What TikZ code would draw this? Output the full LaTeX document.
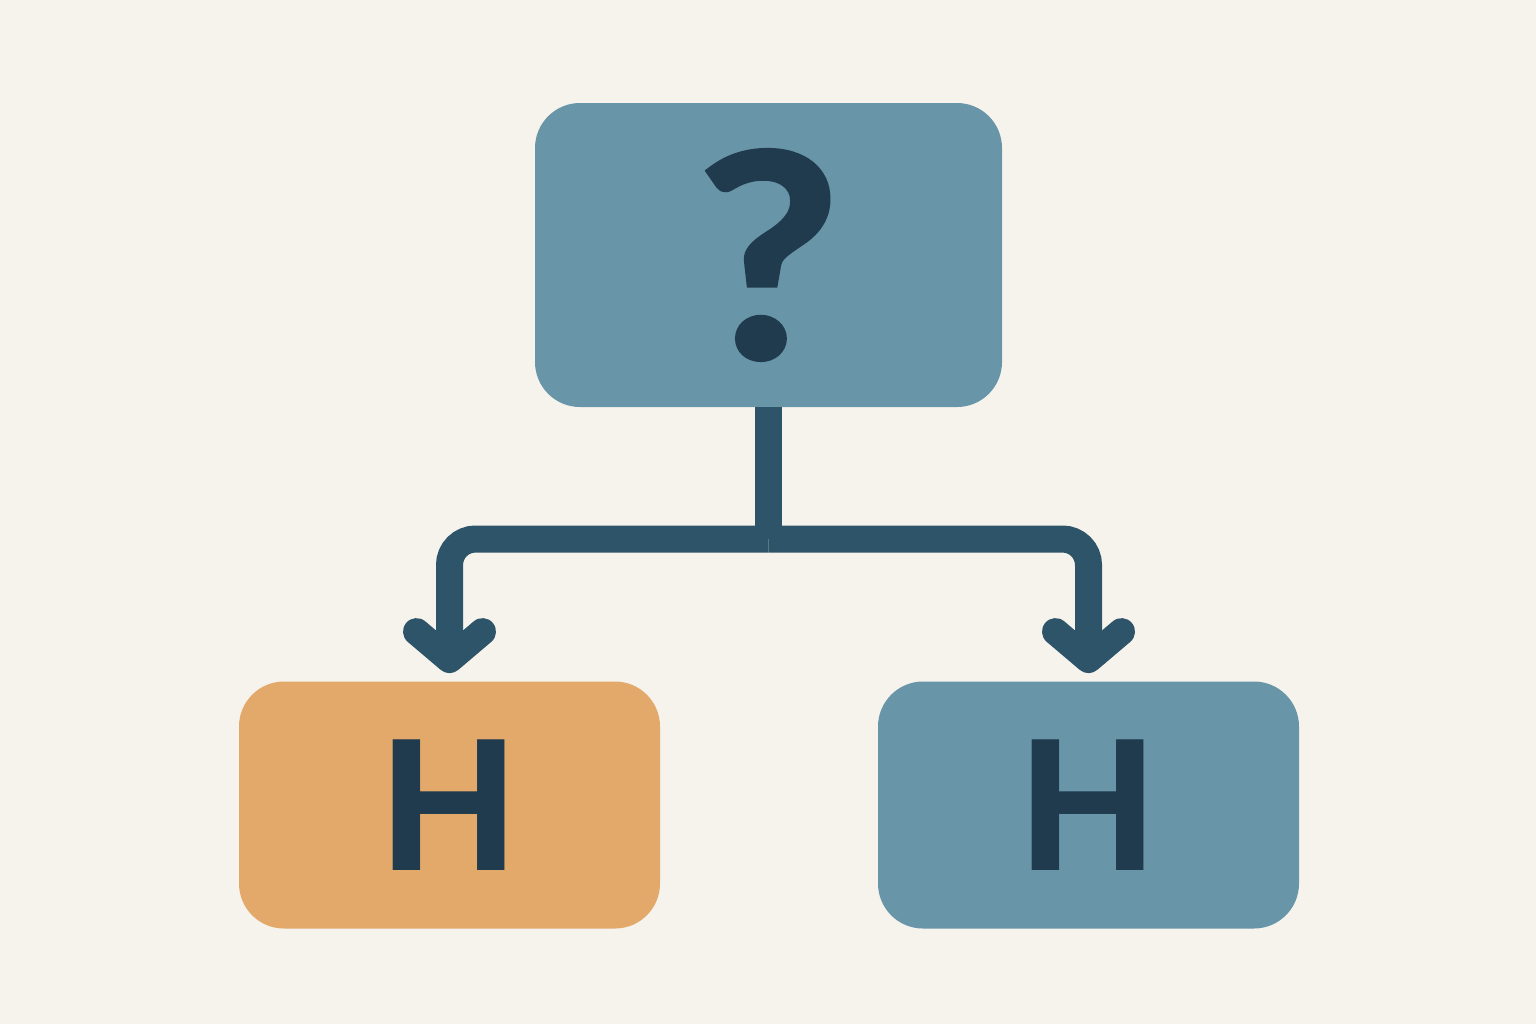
\documentclass[tikz,border=0pt]{standalone}
\usepackage{fontspec}
\setmainfont{Liberation Sans}
\newfontfamily\qfont[BoldFeatures={FakeBold=1.6,FakeStretch=1.1}]{Lato}
\usetikzlibrary{arrows.meta}
\definecolor{paper}{HTML}{F6F3EC}
\definecolor{steel}{HTML}{6895A8}
\definecolor{sand}{HTML}{E2A96B}
\definecolor{ink}{HTML}{1F3B4D}
\definecolor{wire}{HTML}{2E5469}
\begin{document}
\begin{tikzpicture}
  [x=0.5pt,y=-0.5pt,
   every node/.style={rounded corners=22.5pt,inner sep=0pt,text=ink,font=\bfseries},
   leaf/.style={minimum width=210.5pt,minimum height=123.5pt,font=\bfseries\fontsize{95}{95}\selectfont},
   link/.style={draw=wire,line width=13.5pt}]

  \useasboundingbox[fill=paper] (0,0) rectangle (1536,1024);

  \node[fill=steel,minimum width=233.5pt,minimum height=152pt,
        font=\qfont\bfseries\fontsize{142}{142}\selectfont] (root) at (768.5,255) {?};
  \node[leaf,fill=sand]  (left)  at (449.5,805)  {H};
  \node[leaf,fill=steel] (right) at (1088.5,805) {H};

  \coordinate (hub) at (768.5,539);
  \draw[link] (root.south) -- (hub);

  \foreach \to in {left,right}
    \draw[link,rounded corners=13pt,shorten >=4pt,
          -{Straight Barb[length=14pt,width=33pt,line cap=round,line join=round]}]
      (hub) -| (\to.north);

\end{tikzpicture}
\end{document}
